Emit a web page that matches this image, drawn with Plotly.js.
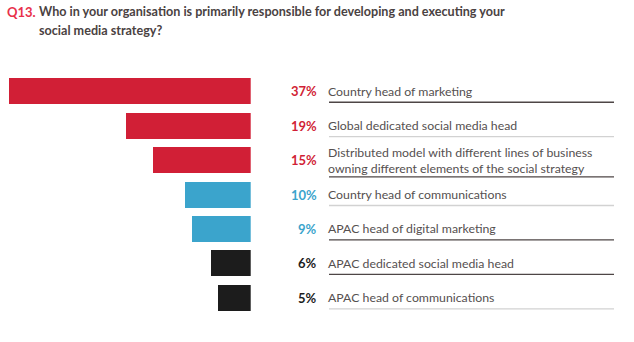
<!DOCTYPE html>
<html>
<head>
<meta charset="utf-8">
<script src="https://cdn.plot.ly/plotly-3.0.1.min.js"></script>
<style>html,body{margin:0;padding:0;background:#fff;}#chart{width:634px;height:342px;}</style>
</head>
<body>
<div id="chart"></div>
<script>
const categories = [
  "Country head of marketing",
  "Global dedicated social media head",
  "Distributed model with different lines of business<br>owning different elements of the social strategy",
  "Country head of communications",
  "APAC head of digital marketing",
  "APAC dedicated social media head",
  "APAC head of communications"
];
const values = [37, 19, 15, 10, 9, 6, 5];
const valueLabels = ["37%", "19%", "15%", "10%", "9%", "6%", "5%"];
const colorGroups = ["red", "red", "red", "blue", "blue", "black", "black"];
const ruleStyles = ["dark", "light", "dark", "light", "dark", "dark", "light"];
const questionNo = "Q13.";
const questionLines = [
  "Who in your organisation is primarily responsible for developing and executing your",
  "social media strategy?"
];

const palette = { red: "#d11f36", blue: "#3ba4cc", black: "#1c1c1c" };
const rulePalette = { dark: "#4e4646", light: "#d2d2d2" };
const pctPalette = { red: "#d11f36", blue: "#3ba4cc", black: "#1c1c1c" };

const idx = categories.map((c, i) => i);
const W = 634, PH = 241;

const trace = {
  type: "bar",
  orientation: "h",
  x: values,
  y: idx,
  width: 0.755,
  marker: { color: colorGroups.map(g => palette[g]), line: { width: 0 } },
  hoverinfo: "skip"
};

const annotations = [];
const shapes = [];
categories.forEach((c, i) => {
  annotations.push({
    xref: "paper", yref: "y", x: 319 / W, y: i, xanchor: "right", yanchor: "middle",
    text: "<b>" + valueLabels[i] + "</b>", showarrow: false,
    font: { family: "Lato, 'Open Sans', sans-serif", size: 13, color: pctPalette[colorGroups[i]] }
  });
  annotations.push({
    xref: "paper", yref: "y", x: 326 / W, y: i, xanchor: "left", yanchor: "middle", align: "left",
    text: c, showarrow: false,
    font: { family: "Lato, 'Open Sans', sans-serif", size: 12.3, color: "#555050" }
  });
  const off = c.indexOf("<br>") >= 0 ? 0.49 : 0.32;
  shapes.push({
    type: "line", xref: "paper", yref: "y", x0: 329 / W, x1: 614 / W, y0: i + off, y1: i + off,
    line: { color: rulePalette[ruleStyles[i]], width: 1.3 }
  });
});

annotations.push({
  xref: "paper", yref: "paper", x: 5 / W, y: 1 + 72 / PH, xanchor: "left", yanchor: "top",
  text: "<b>" + questionNo + "</b>", showarrow: false,
  font: { family: "Lato, sans-serif", size: 13, color: "#e8304a" }
});
questionLines.forEach((t, k) => {
  annotations.push({
    xref: "paper", yref: "paper", x: 37 / W, y: 1 + (72 - 19.5 * k) / PH, xanchor: "left", yanchor: "top", align: "left",
    text: "<b>" + t + "</b>", showarrow: false,
    font: { family: "Lato, sans-serif", size: 12.6, color: "#4a4242" }
  });
});

const layout = {
  width: 634, height: 342,
  margin: { l: 0, r: 0, t: 74, b: 27, pad: 0 },
  paper_bgcolor: "#ffffff", plot_bgcolor: "#ffffff",
  showlegend: false,
  xaxis: { domain: [0, 250.7 / W], range: [38.33, 0], visible: false, fixedrange: true },
  yaxis: { range: [6.5, -0.5], visible: false, fixedrange: true },
  annotations: annotations,
  shapes: shapes,
  bargap: 0
};

Plotly.newPlot("chart", [trace], layout, { displayModeBar: false, staticPlot: true });
</script>
</body>
</html>
